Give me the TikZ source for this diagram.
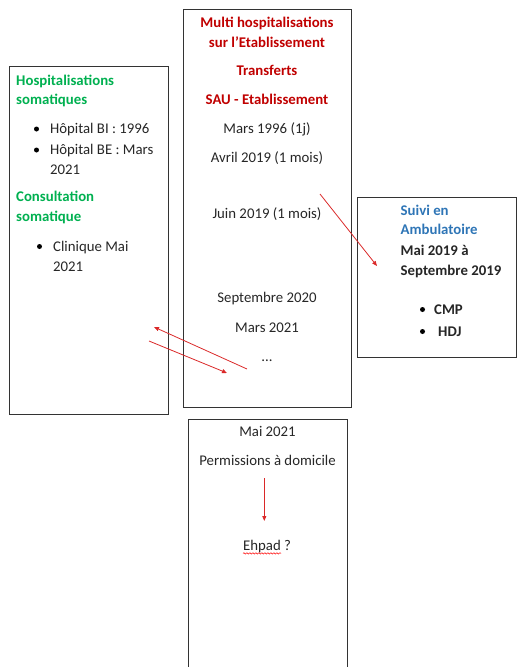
\documentclass[tikz,border=0pt]{standalone}
\usepackage{fontspec}
\setmainfont{Carlito}
\usepackage{tikz}
\usetikzlibrary{arrows.meta,decorations.pathmorphing}
\definecolor{wordred}{HTML}{C00000}
\definecolor{wordgreen}{HTML}{00B050}
\definecolor{wordblue}{HTML}{2E75B6}
\definecolor{arrred}{RGB}{218,40,40}
\tikzset{
  boxline/.style   = {draw=black!80,line width=0.9pt},
  txt/.style       = {inner sep=0pt,anchor=mid,yshift=-2.5pt,font=\fontsize{14.8}{18}\selectfont,text=black!85},
  ltxt/.style      = {txt,anchor=mid west},
  redhead/.style   = {txt,font=\fontsize{14.8}{18}\selectfont\bfseries,text=wordred},
  greenhead/.style = {ltxt,font=\fontsize{14.8}{18}\selectfont\bfseries,text=wordgreen},
  bluehead/.style  = {ltxt,font=\fontsize{14.8}{18}\selectfont\bfseries,text=wordblue},
  boldtxt/.style   = {ltxt,font=\fontsize{14.8}{18}\selectfont\bfseries},
  bul/.style       = {circle,fill=black,inner sep=0pt,minimum size=5pt},
  linkarr/.style   = {-{Triangle[length=5pt,width=4pt]},arrred,line width=0.8pt},
  spell/.style     = {red,line width=0.5pt,decorate,decoration={snake,amplitude=0.7pt,segment length=3pt}}
}

\begin{document}
\begin{tikzpicture}[x=1pt,y=-1pt]
  \useasboundingbox (0,0) rectangle (517,667);
  % boxes
  \draw[boxline] (9,66) rectangle (168,414);
  \draw[boxline] (183,9) rectangle (351,407);
  \draw[boxline] (357,197) rectangle (516.5,357);
  \draw[boxline] (188,668) -- (188,419) -- (347,419) -- (347,668);

  % somatic care
  \node[greenhead] (hosp1) at (16,80.5) {Hospitalisations};
  \node[greenhead] (hosp2) at (16,100) {somatiques};
  \node[bul] (bi-dot) at (36.5,129) {};
  \node[ltxt] (bi) at (50,129) {Hôpital BI : 1996};
  \node[bul] (be-dot) at (36.5,150) {};
  \node[ltxt] (be1) at (50,150) {Hôpital BE : Mars};
  \node[ltxt] (be2) at (50,170) {2021};
  \node[greenhead] (consult1) at (16,196.5) {Consultation};
  \node[greenhead] (consult2) at (16,217) {somatique};
  \node[bul] (cli-dot) at (39.5,246.5) {};
  \node[ltxt] (cli1) at (53,246.5) {Clinique Mai};
  \node[ltxt] (cli2) at (53,266.5) {2021};

  % establishment
  \node[redhead] (multi1) at (267,23) {Multi hospitalisations};
  \node[redhead] (multi2) at (267,42.5) {sur l’Etablissement};
  \node[redhead] (transf) at (267,70.5) {Transferts};
  \node[redhead] (sau) at (267,100) {SAU - Etablissement};
  \node[txt] (mars96) at (267,129) {Mars 1996 (1j)};
  \node[txt] (avr19) at (267,158) {Avril 2019 (1 mois)};
  \node[txt] (juin19) at (267,214) {Juin 2019 (1 mois)};
  \node[txt] (sep20) at (267,298) {Septembre 2020};
  \node[txt] (mars21) at (267,328) {Mars 2021};
  \node[txt] (dots) at (267,357) {...};

  % outpatient follow-up
  \node[bluehead] (suivi1) at (400.5,210.5) {Suivi en};
  \node[bluehead] (suivi2) at (400.5,229.5) {Ambulatoire};
  \node[boldtxt] (periode1) at (400.5,250.5) {Mai 2019 à};
  \node[boldtxt] (periode2) at (400.5,270.5) {Septembre 2019};
  \node[bul] (cmp-dot) at (422.5,309.5) {};
  \node[boldtxt] (cmp) at (434,309.5) {CMP};
  \node[bul] (hdj-dot) at (422.5,331.5) {};
  \node[boldtxt] (hdj) at (438,331.5) {HDJ};

  % home
  \node[txt] (mai21) at (267.5,432) {Mai 2021};
  \node[txt] (perm) at (267.5,460.5) {Permissions à domicile};
  \node[ltxt] (ehpad) at (243,546) {Ehpad};
  \node[ltxt] (qmark) at (284,546) {?};
  \draw[spell] ([yshift=-2.5pt]ehpad.base west) -- ([yshift=-2.5pt]ehpad.base east);

  % links
  \coordinate (juin-from) at (320,194);
  \coordinate (ambu-to) at (377,266);
  \coordinate (etab-from) at (247,369);
  \coordinate (soma-to) at (154,327);
  \coordinate (soma-from) at (149,341);
  \coordinate (etab-to) at (227,373);
  \coordinate (perm-from) at (264.3,478);
  \coordinate (ehpad-to) at (264.3,521);
  \draw[linkarr] (juin-from) -- (ambu-to);
  \draw[linkarr] (etab-from) -- (soma-to);
  \draw[linkarr] (soma-from) -- (etab-to);
  \draw[linkarr] (perm-from) -- (ehpad-to);
\end{tikzpicture}
\end{document}
